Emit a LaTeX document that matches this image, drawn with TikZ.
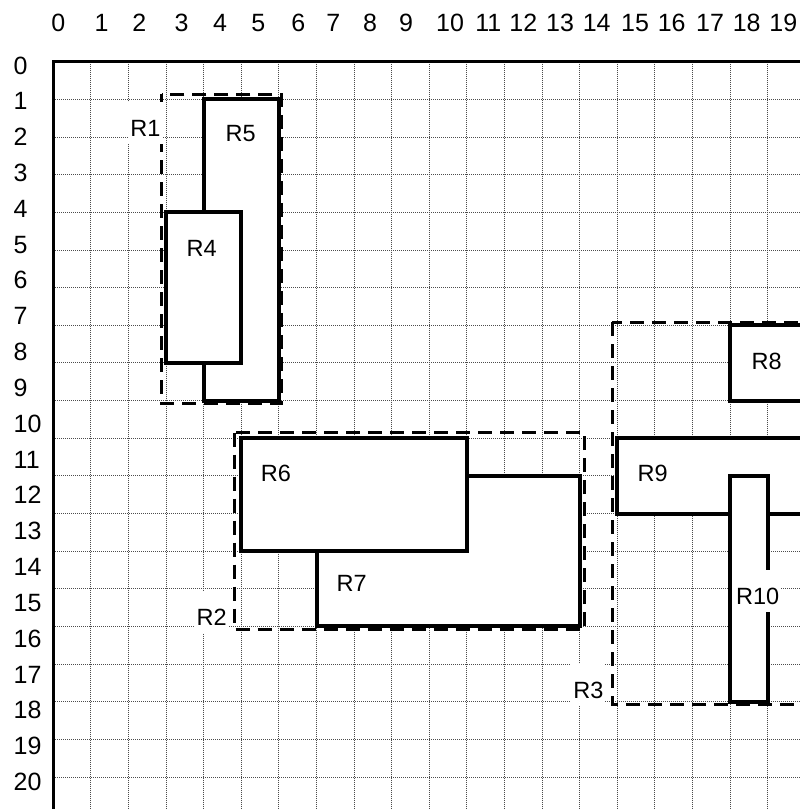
\documentclass[tikz,border=0pt]{standalone}
\usepackage{fontspec}
\setmainfont{Liberation Sans}
\begin{document}
\begin{tikzpicture}[x=1pt,y=-1pt,
  gridline/.style={black!70, line width=0.9pt, dash pattern=on 1pt off 1pt},
  axisline/.style={black, line width=3pt},
  regionbox/.style={draw=black, fill=white, line width=4pt},
  groupbox/.style={draw=black, line width=3pt, dash pattern=on 14pt off 8pt},
  ticklabel/.style={inner sep=0pt, font=\fontsize{25}{30}\selectfont},
  boxlabel/.style={anchor=base, fill=white, inner xsep=2pt, inner ysep=0pt,
    text height=34pt, text depth=7.7pt, font=\fontsize{23.5}{28}\selectfont}]
\useasboundingbox (0,0) rectangle (800,809);
\fill[white] (0,0) rectangle (800,809);
\begin{scope}
\clip (0,0) rectangle (800,809);
\begin{scope}[shift={(53.3pt,-61.7pt)}, x=37.6pt, y=-37.65pt]
  % grid
  \foreach \i in {1,...,19} \draw[gridline] (\i,0) -- (\i,20);
  \foreach \j in {1,...,19} \draw[gridline] (0,\j) -- (20,\j);
  % axes
  \coordinate (axright) at (20,0);
  \coordinate (axorigin) at (0,0);
  \coordinate (axbottom) at (0,20);
  \draw[axisline] (axright) -- (axorigin) -- (axbottom);
  % group boxes (dashed)
  \draw[groupbox] (2.88,0.87) rectangle (6.08,9.08);
  \draw[groupbox] (4.82,9.85) rectangle (14.12,15.08);
  \draw[groupbox] (14.86,6.92) rectangle (21.5,17.07);
  % region boxes
  \draw[regionbox] (4,1) rectangle (6,9);
  \draw[regionbox] (3,4) rectangle (5,8);
  \draw[regionbox] (7,11) rectangle (14,15);
  \draw[regionbox] (5,10) rectangle (11,13);
  \draw[regionbox] (18,7) rectangle (21.5,9);
  \draw[regionbox] (15,10) rectangle (21.5,12);
  \draw[regionbox] (18,11) rectangle (19,17);
\end{scope}
% tick labels
\foreach \n/\x in {0/58.3,1/101.7,2/139.3,3/181.7,4/220,5/258.3,6/298.3,7/333.3,8/370,9/406,
  10/450,11/488.3,12/523.3,13/560,14/596.7,15/635,16/671.7,17/710,18/746.7,19/783.3}
  \node[ticklabel, anchor=base] (xt\n) at (\x,31.5) {\n};
\foreach \n in {0,...,20}
  \node[ticklabel, anchor=base west] (yt\n) at ({13.5},{74+35.83*\n}) {\n};
% region labels
\node[boxlabel] (lR1) at (145.5,136.4) {R1};
\node[boxlabel] (lR2) at (211.7,625) {R2};
\node[boxlabel] (lR3) at (588.3,698.4) {R3};
\node[boxlabel] (lR4) at (201.7,256.7) {R4};
\node[boxlabel] (lR5) at (240.7,141.7) {R5};
\node[boxlabel] (lR6) at (276,481) {R6};
\node[boxlabel] (lR7) at (351.7,591.7) {R7};
\node[boxlabel] (lR8) at (766.7,369.4) {R8};
\node[boxlabel] (lR9) at (652.7,481) {R9};
\node[boxlabel] (lR10) at (757.6,604) {R10};
\end{scope}
\end{tikzpicture}
\end{document}
